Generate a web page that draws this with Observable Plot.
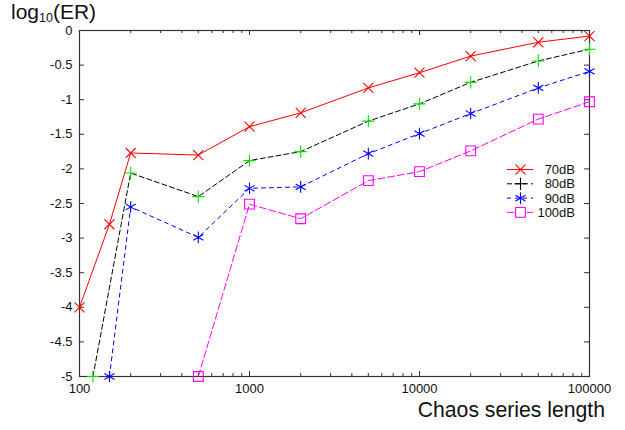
<!DOCTYPE html>
<html><head><meta charset="utf-8">
<script src="https://cdn.jsdelivr.net/npm/d3@7"></script>
<script src="https://cdn.jsdelivr.net/npm/@observablehq/plot@0.6"></script>
<style>
body{margin:0;background:#fff;}
#wrap{position:relative;width:625px;height:430px;font-family:"Liberation Sans",Arial,sans-serif;color:#111;}
#ylab{position:absolute;left:11px;top:1px;font-size:21px;line-height:21px;}
#ylab sub{font-size:12.5px;vertical-align:-3px;line-height:0;}
#xlab{position:absolute;right:20px;top:398px;font-size:21.2px;line-height:23px;}
#chart{position:absolute;left:0;top:0;}
</style></head><body>
<div id="wrap"><div id="chart"></div><div id="ylab">log<sub>10</sub>(ER)</div><div id="xlab">Chaos series length</div></div>
<script>
// ---- data ----
const seriesNames = ["70dB", "80dB", "90dB", "100dB"];
const x70 = [100, 150, 200, 500, 1000, 2000, 5000, 10000, 20000, 50000, 100000];
const y70 = [-4.0, -2.8, -1.77, -1.80, -1.39, -1.19, -0.83, -0.61, -0.37, -0.17, -0.08];
const x80 = [120, 200, 500, 1000, 2000, 5000, 10000, 20000, 50000, 100000];
const y80 = [-5.0, -2.06, -2.40, -1.88, -1.75, -1.31, -1.06, -0.75, -0.44, -0.27];
const x90 = [150, 200, 500, 1000, 2000, 5000, 10000, 20000, 50000, 100000];
const y90 = [-5.0, -2.55, -2.99, -2.28, -2.26, -1.78, -1.49, -1.20, -0.83, -0.59];
const x100 = [500, 1000, 2000, 5000, 10000, 20000, 50000, 100000];
const y100 = [-5.0, -2.51, -2.72, -2.17, -2.04, -1.74, -1.28, -1.03];
const xMajorTicks = [100, 1000, 10000, 100000];
const xMinorTicks = [200, 300, 400, 500, 600, 700, 800, 900, 2000, 3000, 4000, 5000, 6000, 7000, 8000, 9000, 20000, 30000, 40000, 50000, 60000, 70000, 80000, 90000];
const yTicks = [0, -0.5, -1, -1.5, -2, -2.5, -3, -3.5, -4, -4.5, -5];

// ---- styles ----
const styles = {
  "70dB":  {line: "#ff0000", marker: "#ff0000", legendMarker: "#ff0000", dash: null, symbol: "times", r: 4.6},
  "80dB":  {line: "#000000", marker: "#00e000", legendMarker: "#000000", dash: "5,3", symbol: "plus", r: 4.0},
  "90dB":  {line: "#0000ff", marker: "#0000ff", legendMarker: "#0000ff", dash: "4,4", symbol: "asterisk", r: 5.5},
  "100dB": {line: "#ff00ff", marker: "#ff00ff", legendMarker: "#ff00ff", dash: "7,3", symbol: "square2", r: 6.2}
};
const xs = {"70dB": x70, "80dB": x80, "90dB": x90, "100dB": x100};
const ys = {"70dB": y70, "80dB": y80, "90dB": y90, "100dB": y100};
const rows = seriesNames.flatMap(s => xs[s].map((x, i) => ({series: s, x, y: ys[s][i]})));

const W = 625, H = 430, mL = 79, mR = 36, mT = 30, mB = 54;
const innerW = W - mL - mR, innerH = H - mT - mB;
const axisColor = "#333";

const marks = [
  Plot.axisX(xMajorTicks, {tickSize: 0, tickPadding: 7, tickFormat: d => String(d), fontSize: 13, label: null}),
  Plot.axisY(yTicks, {tickSize: 0, tickPadding: 7, tickFormat: d => String(d), fontSize: 13, label: null}),
  Plot.tickX(xMajorTicks, {x: d => d, insetTop: innerH - 5, stroke: axisColor}),
  Plot.tickX(xMajorTicks, {x: d => d, insetBottom: innerH - 5, stroke: axisColor}),
  Plot.tickX(xMinorTicks, {x: d => d, insetTop: innerH - 3, stroke: axisColor}),
  Plot.tickX(xMinorTicks, {x: d => d, insetBottom: innerH - 3, stroke: axisColor}),
  Plot.tickY(yTicks, {y: d => d, insetRight: innerW - 5, stroke: axisColor}),
  Plot.tickY(yTicks, {y: d => d, insetLeft: innerW - 5, stroke: axisColor}),
  Plot.frame({stroke: axisColor, strokeWidth: 1.2})
];
for (const s of seriesNames) {
  const st = styles[s];
  const d = rows.filter(r => r.series === s);
  marks.push(Plot.line(d, {x: "x", y: "y", stroke: st.line, strokeWidth: 1, strokeDasharray: st.dash}));
}
for (const s of seriesNames) {
  const st = styles[s];
  const d = rows.filter(r => r.series === s);
  marks.push(Plot.dot(d, {x: "x", y: "y", symbol: st.symbol, r: st.r, stroke: st.marker, fill: "none", strokeWidth: 1.1}));
}

const svg = Plot.plot({
  width: W, height: H, marginLeft: mL, marginRight: mR, marginTop: mT, marginBottom: mB,
  style: {fontFamily: "'Liberation Sans', Arial, sans-serif", fontSize: "13px", color: "#111", background: "white"},
  x: {type: "log", domain: [100, 100000], label: null},
  y: {domain: [-5, 0], label: null},
  marks
});

// ---- legend ----
const g = d3.select(svg).append("g").attr("font-family", "'Liberation Sans', Arial, sans-serif").attr("font-size", 13);
const symMap = {times: d3.symbolTimes, plus: d3.symbolPlus, asterisk: d3.symbolAsterisk, square2: d3.symbolSquare2};
seriesNames.forEach((s, i) => {
  const st = styles[s];
  const yy = 169.5 + i * 14.3;
  g.append("line").attr("x1", 507).attr("x2", 533).attr("y1", yy).attr("y2", yy)
    .attr("stroke", st.line).attr("stroke-width", 1).attr("stroke-dasharray", st.dash);
  g.append("path").attr("transform", `translate(520.5,${yy})`)
    .attr("d", d3.symbol(symMap[st.symbol], Math.PI * st.r * st.r)())
    .attr("fill", "white").attr("fill-opacity", st.symbol === "square2" ? 1 : 0)
    .attr("stroke", st.legendMarker).attr("stroke-width", 1.1);
  g.append("text").attr("x", 575).attr("y", yy).attr("dy", "0.35em").attr("text-anchor", "end")
    .attr("fill", "#111").text(s);
});

document.getElementById("chart").appendChild(svg);
</script>
</body></html>
